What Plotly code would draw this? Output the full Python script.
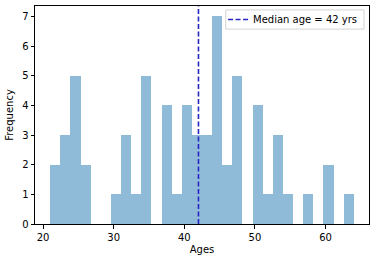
import plotly.graph_objects as go

# Histogram of ages: 30 equal bins from 21 to 64
bin_start = 21
bin_end = 64
n_bins = 30
counts = [2, 3, 5, 2, 0, 0, 1, 3, 1, 5, 0, 4, 1, 4, 3,
          3, 7, 2, 5, 0, 4, 1, 3, 1, 0, 1, 0, 2, 0, 1]
median_age = 42
x_ticks = [20, 30, 40, 50, 60]
y_ticks = [0, 1, 2, 3, 4, 5, 6, 7]
legend_label = f"Median age = {median_age} yrs"

width = (bin_end - bin_start) / n_bins
centers = [bin_start + width * (i + 0.5) for i in range(n_bins)]

line_style = dict(color="#2626c4", width=1.6, dash="5px,2.5px")

fig = go.Figure()
fig.add_trace(go.Bar(
    x=centers, y=counts, width=[width] * n_bins,
    marker=dict(color="rgba(31,119,180,0.5)", line=dict(width=0)),
    showlegend=False, hoverinfo="skip",
))
fig.add_vline(x=median_age, line=line_style)

# Hand-made legend box (matplotlib-style, compact)
fig.add_shape(type="rect", xref="paper", yref="paper",
              x0=0.571, x1=0.985, y0=0.894, y1=0.982,
              fillcolor="white", line=dict(color="#d4d4d4", width=1))
fig.add_shape(type="line", xref="paper", yref="paper",
              x0=0.578, x1=0.644, y0=0.938, y1=0.938, line=line_style)
fig.add_annotation(
    xref="paper", yref="paper", x=0.97, y=0.938, xanchor="right", yanchor="middle",
    text=legend_label, showarrow=False,
    font=dict(family="DejaVu Sans", size=10, color="black"),
)

font = dict(family="DejaVu Sans", size=10, color="black")
fig.update_layout(
    width=376, height=262,
    margin=dict(l=35, r=7, t=6, b=38),
    plot_bgcolor="white", paper_bgcolor="white",
    font=font, bargap=0, showlegend=False,
)
fig.update_xaxes(range=[18.85, 66.15], tickvals=x_ticks, showgrid=False, zeroline=False,
                 showline=True, linecolor="black", linewidth=1, mirror=True,
                 ticks="outside", ticklen=3.5, tickcolor="black", automargin=False,
                 title=dict(text="Ages", font=font, standoff=4))
fig.update_yaxes(range=[0, 7.35], tickvals=y_ticks, showgrid=False, zeroline=False,
                 showline=True, linecolor="black", linewidth=1, mirror=True,
                 ticks="outside", ticklen=3.5, tickcolor="black", automargin=False,
                 title=dict(text="Frequency", font=font, standoff=6))
fig.write_html("out.html", config={"displayModeBar": False},
               post_script="document.body.style.margin='0';document.body.style.overflow='hidden';")
